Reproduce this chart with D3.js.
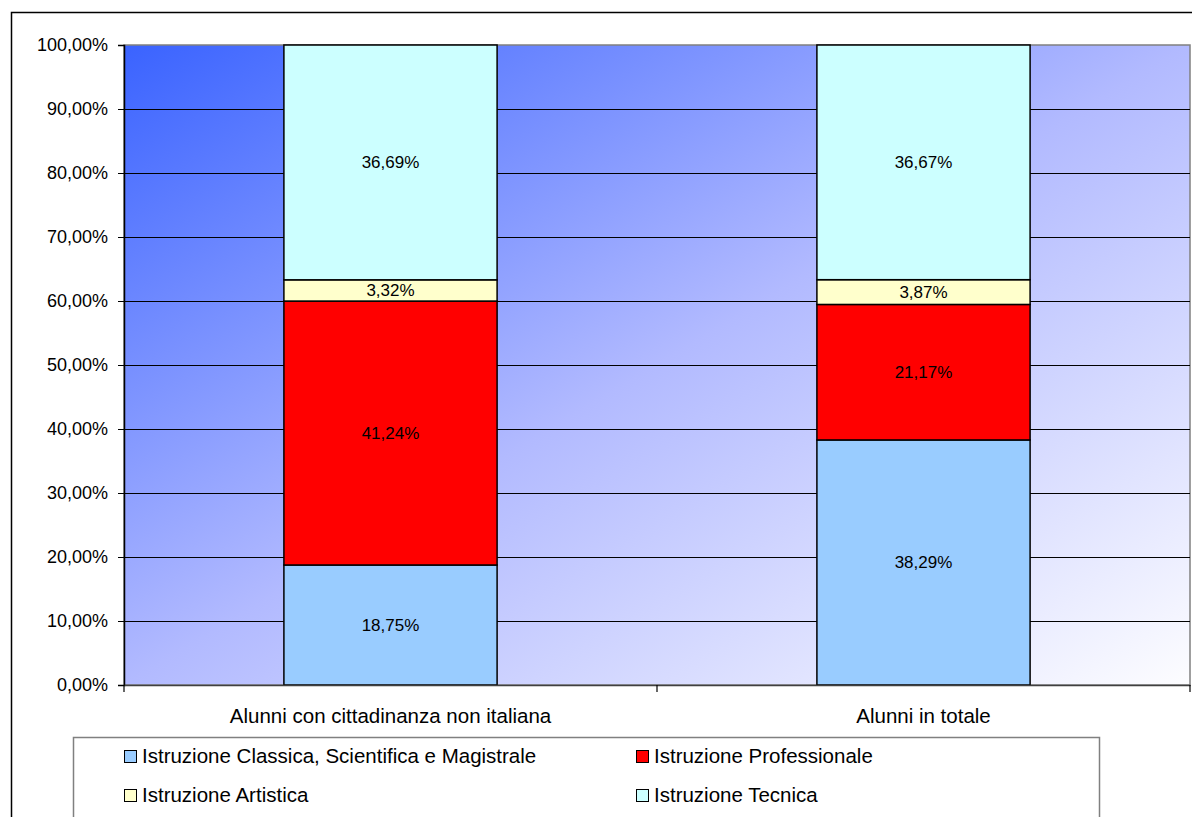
<!DOCTYPE html>
<html>
<head>
<meta charset="utf-8">
<script src="https://cdn.jsdelivr.net/npm/d3@7"></script>
<style>
  html, body { margin: 0; padding: 0; background: #fff; }
  svg { display: block; font-family: "Liberation Sans", Arial, sans-serif; }
</style>
</head>
<body>
<svg id="chart" width="1192" height="817"></svg>
<script>
// Categories on the x axis
const categories = ["Alunni con cittadinanza non italiana", "Alunni in totale"];
// Stacked series, bottom to top (percent)
const seriesNames = [
  "Istruzione Classica, Scientifica e Magistrale",
  "Istruzione Professionale",
  "Istruzione Artistica",
  "Istruzione Tecnica"
];
const classica = [18.75, 38.29];
const professionale = [41.24, 21.17];
const artistica = [3.32, 3.87];
const tecnica = [36.69, 36.67];
const seriesColors = ["#99ccff", "#ff0000", "#ffffcc", "#ccffff"];
const yTicks = [0, 10, 20, 30, 40, 50, 60, 70, 80, 90, 100];

const seriesValues = [classica, professionale, artistica, tecnica];
const rows = categories.map((c, i) => {
  const r = { cat: c };
  seriesNames.forEach((s, k) => { r[s] = seriesValues[k][i]; });
  return r;
});

const svg = d3.select("#chart");
const fmt = v => v.toFixed(2).replace(".", ",") + "%";
const FONT = "Liberation Sans, Arial, sans-serif";

// Outer chart frame
svg.append("path")
  .attr("d", "M11.5,817 V12.5 H1192")
  .attr("fill", "none").attr("stroke", "#000").attr("stroke-width", 1.5);

const plot = { left: 124, right: 1190, top: 45, bottom: 685 };

const x = d3.scaleBand().domain(categories)
  .range([plot.left, plot.right]).paddingInner(0.6).paddingOuter(0.3);
const y = d3.scaleLinear().domain([0, 100]).range([plot.bottom, plot.top]);

// Diagonal background gradient of the plot area
const defs = svg.append("defs");
const grad = defs.append("linearGradient").attr("id", "bg")
  .attr("x1", 0).attr("y1", 0).attr("x2", 1).attr("y2", 1);
grad.append("stop").attr("offset", "0").attr("stop-color", "#3a63ff");
grad.append("stop").attr("offset", "0.5").attr("stop-color", "#b2baff");
grad.append("stop").attr("offset", "1").attr("stop-color", "#fdfdff");

svg.append("rect")
  .attr("x", plot.left).attr("y", plot.top)
  .attr("width", plot.right - plot.left).attr("height", plot.bottom - plot.top)
  .attr("fill", "url(#bg)")
  .attr("stroke", "#808080").attr("stroke-width", 1.5);

// Horizontal gridlines
svg.append("g").selectAll("line").data(yTicks.filter(t => t > 0 && t < 100)).join("line")
  .attr("x1", plot.left).attr("x2", plot.right)
  .attr("y1", d => Math.round(y(d)) + 0.5).attr("y2", d => Math.round(y(d)) + 0.5)
  .attr("stroke", "#000").attr("stroke-width", 1.2);

// Stacked bars
const stack = d3.stack().keys(seriesNames)(rows);
const layers = svg.append("g").selectAll("g").data(stack).join("g")
  .attr("fill", (d, i) => seriesColors[i]);
layers.selectAll("rect").data(d => d).join("rect")
  .attr("x", d => x(d.data.cat))
  .attr("width", x.bandwidth())
  .attr("y", d => y(d[1]))
  .attr("height", d => y(d[0]) - y(d[1]))
  .attr("stroke", "#000").attr("stroke-width", 1.5);

// Value labels
layers.selectAll("text").data(d => d.map(p => ({ p, key: d.key }))).join("text")
  .attr("x", d => x(d.p.data.cat) + x.bandwidth() / 2)
  .attr("y", d => (y(d.p[0]) + y(d.p[1])) / 2)
  .attr("dy", "0.35em")
  .attr("text-anchor", "middle")
  .attr("font-family", FONT)
  .attr("font-size", 17).attr("fill", "#000")
  .text(d => fmt(d.p[1] - d.p[0]));

// Y axis
const yAxis = svg.append("g").attr("transform", `translate(${plot.left},0)`)
  .call(d3.axisLeft(y).tickValues(yTicks).tickSize(6).tickPadding(10)
    .tickFormat(d => d.toFixed(2).replace(".", ",") + "%"));
yAxis.select(".domain").attr("stroke", "#000").attr("stroke-width", 1.5);
yAxis.selectAll(".tick line").attr("stroke", "#000");
yAxis.selectAll(".tick text").attr("font-size", 18).attr("fill", "#000")
  .attr("font-family", FONT);

// X axis
const xAxis = svg.append("g").attr("transform", `translate(0,${plot.bottom})`)
  .call(d3.axisBottom(x).tickSize(0).tickPadding(23));
xAxis.select(".domain").attr("stroke", "#404040").attr("stroke-width", 1.5);
xAxis.selectAll(".tick text").attr("font-size", 20.5).attr("fill", "#000")
  .attr("font-family", FONT);
// Category boundary ticks
const bounds = [plot.left, plot.left + (plot.right - plot.left) / 2, plot.right];
svg.append("g").selectAll("line").data(bounds).join("line")
  .attr("x1", d => d).attr("x2", d => d)
  .attr("y1", plot.bottom).attr("y2", plot.bottom + 7)
  .attr("stroke", "#000").attr("stroke-width", 1.2);

// Legend
const legend = svg.append("g");
legend.append("rect")
  .attr("x", 73.5).attr("y", 737.5).attr("width", 1026).attr("height", 100)
  .attr("fill", "#fff").attr("stroke", "#808080").attr("stroke-width", 1.5);
const legPos = [[124, 756], [636, 756], [124, 795], [636, 795]];
const legItems = legend.selectAll("g").data(seriesNames).join("g")
  .attr("transform", (d, i) => `translate(${legPos[i][0]},${legPos[i][1]})`);
legItems.append("rect")
  .attr("x", 0.5).attr("y", -5.5).attr("width", 12).attr("height", 12)
  .attr("fill", (d, i) => seriesColors[i]).attr("stroke", "#000").attr("stroke-width", 1);
legItems.append("text")
  .attr("x", 18).attr("dy", "0.35em")
  .attr("font-family", FONT)
  .attr("font-size", 20.5).attr("fill", "#000")
  .text(d => d);
</script>
</body>
</html>
